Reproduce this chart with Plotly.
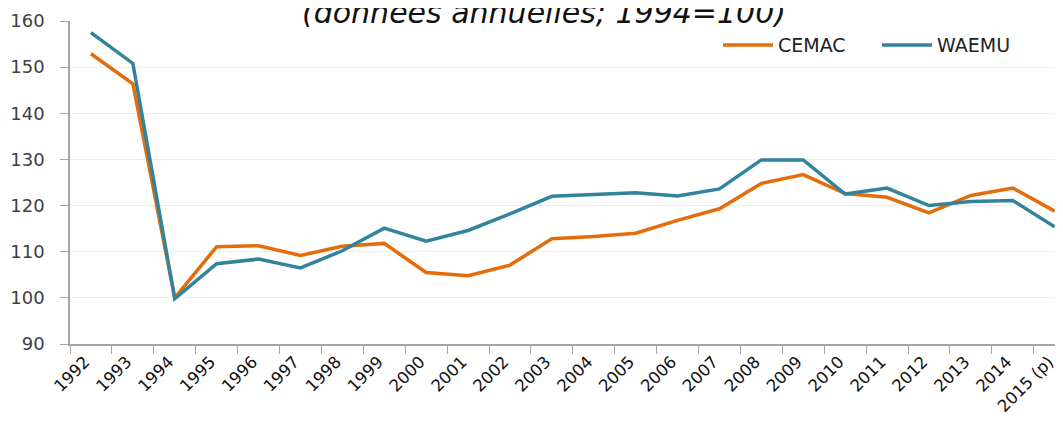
import plotly.graph_objects as go

years = ["1992", "1993", "1994", "1995", "1996", "1997", "1998", "1999", "2000", "2001",
         "2002", "2003", "2004", "2005", "2006", "2007", "2008", "2009", "2010", "2011",
         "2012", "2013", "2014", "2015 (p)"]
cemac = [152.9, 146.4, 100.0, 111.1, 111.3, 109.2, 111.2, 111.8, 105.5, 104.8,
         107.1, 112.8, 113.3, 114.0, 116.8, 119.3, 124.8, 126.7, 122.6, 121.8,
         118.4, 122.2, 123.8, 118.8]
waemu = [157.5, 150.8, 99.8, 107.4, 108.4, 106.5, 110.2, 115.1, 112.3, 114.6,
         118.2, 122.0, 122.4, 122.8, 122.1, 123.6, 129.9, 129.9, 122.5, 123.8,
         120.0, 120.9, 121.1, 115.4]
title_text = "(données annuelles; 1994=100)"

ORANGE = "#E46C0A"
TEAL = "#31849B"
FONT = "DejaVu Sans, sans-serif"

fig = go.Figure()
fig.add_trace(go.Scatter(x=years, y=cemac, mode="lines", name="CEMAC",
                         line=dict(color=ORANGE, width=3.5)))
fig.add_trace(go.Scatter(x=years, y=waemu, mode="lines", name="WAEMU",
                         line=dict(color=TEAL, width=3.5)))

fig.update_layout(
    width=1063, height=421,
    margin=dict(l=62, r=0, t=13, b=85, autoexpand=False),
    plot_bgcolor="white", paper_bgcolor="white",
    showlegend=True,
    legend=dict(orientation="h", x=648 / 1001, y=0.925, xanchor="left", yanchor="middle",
                font=dict(family=FONT, size=19, color="#222222"),
                itemwidth=50,
                entrywidth=94, entrywidthmode="pixels", bgcolor="rgba(0,0,0,0)"),
    annotations=[dict(text=title_text, xref="paper", yref="paper",
                      x=0.4735, y=1.026, xanchor="center", yanchor="middle",
                      showarrow=False,
                      font=dict(family=FONT, size=30, color="#111111", style="italic"))],
)
fig.update_xaxes(type="category", range=[-0.5, 23.39], tickson="boundaries",
                 showline=True, linecolor="#A6A6A6", linewidth=1.5,
                 ticks="outside", ticklen=8, tickcolor="#A6A6A6",
                 tickangle=-45, showgrid=False, ticklabelshift=-6,
                 tickfont=dict(family=FONT, size=16.5, color="#111111"))
fig.update_yaxes(range=[90, 160], dtick=10, showline=True, linecolor="#A6A6A6", linewidth=1.5,
                 ticks="outside", ticklen=8, tickcolor="#A6A6A6",
                 ticklabelstandoff=12,
                 gridcolor="#EDEDED", gridwidth=1, zeroline=False,
                 tickfont=dict(family=FONT, size=18, color="#404040"))

fig.write_html("out.html")
